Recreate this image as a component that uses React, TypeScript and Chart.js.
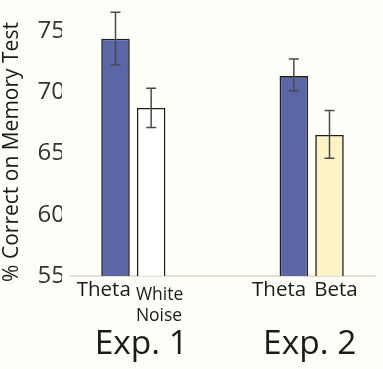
import React, { useEffect, useRef } from "react";
import { Chart, registerables } from "chart.js";

Chart.register(...registerables);

// ---- data ----
const categories = ["", "Theta", "White Noise", "", "", "", "Theta", "Beta", ""];
const tickLabels: (string | string[])[] = ["", "Theta", ["White", "Noise"], "", "", "", "Theta", "Beta", ""];
const means: (number | null)[] = [null, 74.35, 68.7, null, null, null, 71.3, 66.5, null];
const errLow: (number | null)[] = [null, 72.2, 67.1, null, null, null, 70.1, 64.6, null];
const errHigh: (number | null)[] = [null, 76.5, 70.3, null, null, null, 72.7, 68.5, null];
const barColors = ["#ffffff", "#5a66a6", "#ffffff", "#ffffff", "#ffffff", "#ffffff", "#5a66a6", "#fdf4c6", "#ffffff"];
const groupOf: (number | null)[] = [null, 0, 0, null, null, null, 1, 1, null];
const groupLabels = ["Exp. 1", "Exp. 2"];
const yTitle = "% Correct on Memory Test";
const yMin = 55;
const yMax = 77.5;
const yStep = 5;

const FONT = "'Open Sans', sans-serif";

const bgPlugin = {
  id: "bg",
  beforeDraw(chart: any) {
    const { ctx, width, height } = chart;
    ctx.save();
    ctx.fillStyle = "#fffef8";
    ctx.fillRect(0, 0, width, height);
    ctx.restore();
  },
};

const decorPlugin = {
  id: "decor",
  beforeDatasetsDraw(chart: any) {
    const { ctx, chartArea } = chart;
    const y = chart.scales.y.getPixelForValue(yMin);
    ctx.save();
    ctx.strokeStyle = "#d9d5c8";
    ctx.lineWidth = 1.5;
    ctx.beginPath();
    ctx.moveTo(chartArea.left + 8, y);
    ctx.lineTo(chartArea.right - 7, y);
    ctx.stroke();
    ctx.restore();
  },
  afterDatasetsDraw(chart: any) {
    const { ctx } = chart;
    const meta = chart.getDatasetMeta(0);
    const ys = chart.scales.y;
    ctx.save();
    // error bars
    ctx.strokeStyle = "#4a4a4a";
    ctx.lineWidth = 1.5;
    meta.data.forEach((bar: any, i: number) => {
      if (means[i] == null) return;
      const x = bar.x;
      const yl = ys.getPixelForValue(errLow[i]);
      const yh = ys.getPixelForValue(errHigh[i]);
      const cap = 5;
      ctx.beginPath();
      ctx.moveTo(x, yl);
      ctx.lineTo(x, yh);
      ctx.moveTo(x - cap, yl);
      ctx.lineTo(x + cap, yl);
      ctx.moveTo(x - cap, yh);
      ctx.lineTo(x + cap, yh);
      ctx.stroke();
    });

    // category labels
    const base = ys.getPixelForValue(yMin);
    ctx.fillStyle = "#1a1a1a";
    ctx.textBaseline = "alphabetic";
    meta.data.forEach((bar: any, i: number) => {
      if (means[i] == null) return;
      const g = groupOf[i];
      const first = groupOf[i + 1] === g;
      const half = bar.width / 2;
      const lbl = tickLabels[i];
      ctx.textAlign = first ? "right" : "left";
      const x = first ? bar.x + half - (g === 1 ? 2 : -1) : bar.x - half - 1;
      if (Array.isArray(lbl)) {
        ctx.font = `17.5px ${FONT}`;
        lbl.forEach((line, k) => ctx.fillText(line, x, base + 24 + k * 21));
      } else {
        ctx.font = `20.5px ${FONT}`;
        ctx.fillText(lbl, x, base + 20);
      }
    });

    // group labels
    ctx.font = `33.5px ${FONT}`;
    ctx.textAlign = "center";
    groupLabels.forEach((gl, g) => {
      const xs: number[] = [];
      meta.data.forEach((bar: any, i: number) => {
        if (groupOf[i] === g) xs.push(bar.x);
      });
      const cx = (Math.min(...xs) + Math.max(...xs)) / 2;
      ctx.fillText(gl, cx + (g === 0 ? 8 : -2), base + 78);
    });

    // y title
    ctx.font = `21px ${FONT}`;
    ctx.textAlign = "center";
    ctx.textBaseline = "middle";
    ctx.translate(12, 152);
    ctx.rotate(-Math.PI / 2);
    ctx.fillText(yTitle, 0, 0);
    ctx.restore();
  },
};

export default function App() {
  const ref = useRef<HTMLCanvasElement | null>(null);

  useEffect(() => {
    document.body.style.margin = "0";
    const chart = new Chart(ref.current!, {
      type: "bar",
      data: {
        labels: categories,
        datasets: [
          {
            data: means as any,
            backgroundColor: barColors,
            borderColor: "#1e1e1e",
            borderWidth: 1.6,
            barPercentage: 0.8,
            categoryPercentage: 1.0,
          },
        ],
      },
      options: {
        animation: false,
        responsive: true,
        maintainAspectRatio: false,
        layout: { padding: { top: 0, right: 0, bottom: 0, left: 0 } },
        plugins: {
          legend: { display: false },
          tooltip: { enabled: false },
        },
        scales: {
          x: {
            grid: { display: false },
            border: { display: false },
            ticks: { display: false },
            afterFit(scale: any) {
              scale.height = 93;
              scale.paddingLeft = 0;
              scale.paddingRight = 0;
            },
          },
          y: {
            min: yMin,
            max: yMax,
            grid: { display: false, drawTicks: false },
            border: { display: false },
            ticks: {
              stepSize: yStep,
              includeBounds: false,
              padding: -3,
              color: "#333333",
              font: { family: FONT, size: 24 },
            },
            afterFit(scale: any) {
              scale.width = 62;
              scale.paddingTop = 0;
              scale.paddingBottom = 0;
            },
          },
        },
      },
      plugins: [bgPlugin, decorPlugin],
    });
    return () => chart.destroy();
  }, []);

  return (
    <div style={{ position: "fixed", left: 0, top: 0, width: 383, height: 369 }}>
      <canvas ref={ref} />
    </div>
  );
}
